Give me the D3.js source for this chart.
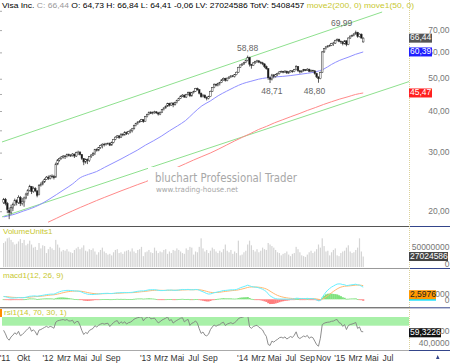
<!DOCTYPE html>
<html>
<head>
<meta charset="utf-8">
<script src="https://cdn.jsdelivr.net/npm/d3@7"></script>
<style>
  html, body { margin: 0; padding: 0; background: #fff; }
  svg { display: block; font-family: "Liberation Sans", Arial, sans-serif; }
</style>
</head>
<body>
<svg id="chart" width="450" height="363"></svg>
<script>
// Data (weekly bars, Monday of each week from firstWeek on)
const firstWeek = "2011-07-18";

const weekOpen = [
  21.3,21.8, 21.2,20.2,19.9,20.5,21.0, 21.6,21.3,22.1,21.2, 21.4,22.0,22.6,23.2,23.8, 23.0,23.5,23.1,22.5, 24.0,24.2,24.6,25.0,
  25.4,25.2,25.6,25.5,25.4, 27.8,28.6,28.9,29.2, 29.4,29.3,29.7,29.5, 29.5,29.8,29.4,30.1,30.2, 29.7,28.9,28.2,28.7, 28.5,29.3,29.6,29.9, 30.8,30.6,31.2,31.6,31.9, 31.8,32.0,32.1,31.7, 32.3,33.0,33.5,33.8, 33.4,34.2,34.0,34.6,34.3, 34.8,35.0,35.5,36.3, 36.8,37.2,37.4,37.8,37.3,
  38.6,39.2,39.8,39.5, 39.7,39.9,39.6,39.3, 39.8,40.5,41.0,41.5, 42.3,41.8,42.4,41.9,42.6, 43.2,43.8,44.5,44.8, 44.2,45.0,45.6,44.6, 45.6,46.0,46.9,46.5,45.4, 44.3,44.8,44.0,43.8, 44.3,46.0,47.2,48.3,48.0, 48.6,48.9,49.8,50.3, 49.6,50.4,50.8,51.2, 51.0,51.6,52.5,54.3,55.2,
  55.6,56.2,57.0,58.2, 55.4,55.0,56.0,56.5, 56.8,56.3,56.0,55.6,54.6, 53.8,50.5,50.0,51.5, 51.0,51.6,52.0,52.6, 52.8,52.5,52.9,52.2,52.6, 53.0,52.7,53.4,54.6, 53.0,52.6,53.0,53.4, 53.2,53.6,52.8,53.2,53.0, 52.0,50.8,50.2,52.4, 60.4,61.8,62.6,63.0, 63.2,64.0,64.2,65.4,65.9,
  65.0,64.8,63.9,65.2, 63.6,66.5,67.4,67.8, 68.4,69.2,67.2,68.3,64.73
];
const weekHigh = [
  22.0,22.0, 21.4,20.6,21.0,21.3,21.9, 21.8,22.4,22.3,22.0, 22.2,22.8,23.4,24.1,23.9, 23.8,23.7,23.2,24.2, 24.5,24.8,25.2,25.6,
  25.7,25.8,25.9,25.8,28.1, 28.8,29.1,29.4,29.6, 29.6,29.9,29.9,29.8, 30.0,29.9,30.3,30.5,30.4, 29.8,29.0,28.9,28.9, 29.4,29.8,30.2,30.9, 31.0,31.3,31.8,32.1,32.2, 32.2,32.3,32.3,32.5, 33.1,33.7,34.0,33.9, 34.4,34.4,34.9,34.8,35.0, 35.4,35.7,36.5,37.0, 37.4,37.7,38.0,37.9,38.8,
  39.4,40.0,40.1,40.0, 40.2,40.1,39.9,40.0, 40.7,41.2,41.7,42.5, 42.5,42.6,42.6,42.8,43.4, 44.0,44.7,45.1,45.0, 45.2,45.9,45.9,45.8, 46.2,47.1,47.2,46.7,45.6, 45.1,45.0,44.4,44.6, 46.2,47.4,48.6,48.5,48.8, 49.1,50.0,50.6,50.5, 50.6,51.0,51.4,51.5, 51.8,52.7,54.5,55.4,55.8,
  56.4,57.3,58.88,58.4, 55.6,56.3,56.8,57.2, 57.0,56.6,56.4,55.8,55.0, 54.0,51.0,51.9,51.8, 51.9,52.3,52.9,53.1, 53.0,53.2,53.0,52.9,53.3, 53.2,53.7,55.1,54.7, 53.3,53.2,53.7,53.6, 54.0,53.8,53.5,53.4,53.2, 52.3,51.0,52.7,60.8, 62.0,62.8,63.3,63.6, 64.3,64.8,65.7,66.3,66.2,
  65.4,65.0,65.6,65.5, 66.8,67.7,68.1,68.8, 69.99,69.4,68.7,68.6,66.84
];
const weekLow = [
  21.1,20.9, 19.8,19.0,19.6,20.1,20.8, 20.9,21.1,20.8,20.9, 20.7,21.8,22.3,23.0,22.6, 22.8,22.9,22.1,22.4, 23.8,24.0,24.4,24.9,
  24.9,25.0,25.2,25.0,25.3, 27.6,28.3,28.7,28.9, 28.8,29.1,29.3,29.2, 29.3,29.0,29.2,29.6,29.5, 28.6,27.6,27.9,27.8, 28.2,29.0,29.4,29.6, 30.3,30.4,30.9,31.0,31.4, 31.6,31.8,31.5,31.6, 32.1,32.8,33.3,33.1, 33.3,33.7,33.9,34.0,34.1, 34.4,34.6,35.3,36.1, 36.5,37.0,37.2,37.0,37.2,
  38.4,39.0,39.3,39.2, 39.4,39.4,38.9,39.0, 39.7,40.3,40.8,41.3, 41.4,41.6,41.2,41.7,42.3, 43.0,43.6,44.2,44.0, 43.9,44.7,44.2,44.3, 45.3,45.8,46.2,45.0,44.0, 44.1,43.8,43.2,43.5, 44.2,45.8,47.0,47.6,47.6, 47.9,48.7,49.5,49.2, 49.3,50.1,50.5,50.7, 50.6,51.4,52.3,54.1,54.8,
  55.2,55.9,56.6,54.6, 53.8,54.8,55.6,56.0, 55.9,55.5,55.1,54.0,53.4, 49.8,48.71,49.6,50.3, 50.6,51.2,51.7,52.3, 52.1,52.3,51.9,51.9,52.4, 52.3,52.5,53.2,52.6, 52.0,52.3,52.7,52.9, 53.0,52.5,52.5,52.5,51.6, 50.4,48.80,50.0,52.2, 60.0,61.4,62.1,62.6, 62.9,63.0,63.8,65.0,64.6,
  63.9,63.2,63.6,62.8, 63.3,66.1,67.0,67.3, 68.0,66.6,66.8,66.2,64.41
];
const weekClose = [
  21.8,21.2, 20.3,19.9,20.6,21.0,21.6, 21.3,22.1,21.2,21.5, 22.0,22.6,23.2,23.8,23.0, 23.5,23.1,22.4,24.0, 24.2,24.6,25.0,25.4,
  25.2,25.6,25.5,25.3,27.8, 28.6,28.9,29.2,29.4, 29.3,29.7,29.5,29.5, 29.8,29.4,30.1,30.2,29.7, 28.9,28.2,28.7,28.5, 29.3,29.6,29.9,30.8, 30.6,31.2,31.6,31.9,31.8, 32.0,32.1,31.7,32.3, 33.0,33.5,33.8,33.4, 34.2,34.0,34.6,34.3,34.8, 35.0,35.5,36.3,36.8, 37.2,37.4,37.8,37.3,38.6,
  39.2,39.8,39.5,39.7, 39.9,39.6,39.3,39.8, 40.5,41.0,41.5,42.3, 41.8,42.4,41.9,42.6,43.2, 43.8,44.5,44.8,44.2, 45.0,45.6,44.6,45.6, 46.0,46.9,46.5,45.4,44.3, 44.8,44.0,43.8,44.3, 46.0,47.2,48.3,48.0,48.6, 48.9,49.8,50.3,49.6, 50.4,50.8,51.2,51.0, 51.6,52.5,54.3,55.2,55.6,
  56.2,57.0,58.2,55.4, 55.0,56.0,56.5,56.8, 56.3,56.0,55.6,54.6,53.8, 50.5,50.0,51.5,51.0, 51.6,52.0,52.6,52.8, 52.5,52.9,52.2,52.6,53.0, 52.7,53.4,54.6,53.0, 52.6,53.0,53.4,53.2, 53.6,52.8,53.2,53.0,52.0, 50.8,50.2,52.4,60.4, 61.8,62.6,63.0,63.2, 64.0,64.2,65.4,65.9,65.0,
  64.8,63.9,65.2,63.6, 66.5,67.4,67.8,68.4, 69.2,67.2,68.3,66.5,66.44
];
// volume in millions of shares
const weekVolume = [
  62,66, 74,76,70,64,58, 60,66,72,62, 70,56,60,68,58, 50,52,44,62, 48,56,54,36,
  46,52,48,44,70, 58,50,40,44, 42,46,40,38, 36,44,48,52,46, 50,56,42,40, 46,44,48,40, 32,38,44,50,40, 36,32,34,30, 38,44,46,36, 38,34,40,42,44, 40,48,40,36, 44,46,52,28,38,
  40,44,38,36, 50,42,36,40, 38,44,46,34, 40,36,44,42,48, 44,40,36,34, 48,44,52,50, 32,40,38,52,74, 48,40,44,36, 42,50,46,40,36, 42,38,46,58, 42,38,44,34, 40,36,68,30,32,
  38,42,58,68, 56,44,40,46, 38,42,50,46,44, 62,58,54,50, 44,38,36,30, 34,36,40,32,28, 34,36,52,46, 38,30,28,26, 32,38,42,36,40, 46,58,50,74, 54,40,42,30, 38,44,48,30,28,
  36,40,42,50, 56,40,36,38, 44,50,74,40,27.024586
];

// Moving averages (monthly samples)
const maDates = [
  "2011-07-18","2011-08-01","2011-09-01","2011-10-01","2011-11-01","2011-12-01",
  "2012-01-01","2012-02-01","2012-03-01","2012-04-01","2012-05-01","2012-06-01","2012-07-01","2012-08-01","2012-09-01","2012-10-01","2012-11-01","2012-12-01",
  "2013-01-01","2013-02-01","2013-03-01","2013-04-01","2013-05-01","2013-06-01","2013-07-01","2013-08-01","2013-09-01","2013-10-01","2013-11-01","2013-12-01",
  "2014-01-01","2014-02-01","2014-03-01","2014-04-01","2014-05-01","2014-06-01","2014-07-01","2014-08-01","2014-09-01","2014-10-01","2014-11-01","2014-12-01",
  "2015-01-01","2015-02-01","2015-03-01","2015-03-30"
];
const ma50 = [
  19.3,19.4,19.7,20.1,20.5,21.0,
  21.7,22.5,23.3,24.2,25.3,25.9,26.4,27.2,28.0,28.8,29.7,30.6,
  31.7,32.7,33.7,35.0,36.2,37.6,39.6,41.6,43.0,44.6,46.0,47.3,
  48.5,49.3,50.0,50.5,50.8,51.0,51.3,51.7,52.1,52.6,53.6,55.4,
  57.0,58.2,59.4,60.39
];
const ma200 = [
  null,null,null,null,null,null,
  18.6,19.1,19.6,20.1,20.6,21.1,21.6,22.1,22.6,23.1,23.6,24.1,
  24.6,25.2,25.8,26.5,27.2,27.9,28.6,29.3,30.0,30.8,31.7,32.6,
  33.5,34.4,35.3,36.1,37.0,37.8,38.6,39.4,40.3,41.1,42.0,42.8,
  43.6,44.3,45.0,45.47
];

// Trend channel lines (start / end)
const trendStartDates = ["2011-07-12", "2011-07-12"];
const trendEndDates = ["2015-06-09", "2015-09-18"];
const trendStartPrices = [32.4, 19.3];
const trendEndPrices = [79.6, 49.2];

// High / low annotations
const noteDates = ["2014-01-20", "2014-04-21", "2014-09-28", "2015-01-08"];
const notePrices = [58.88, 48.71, 48.80, 69.99];
const noteLabels = ["58,88", "48,71", "48,80", "69,99"];
const notePlaceAbove = [true, false, false, true];

// Axis ticks
const priceTicks = [20, 30, 40, 50, 60, 70];
const priceMinorTicks = [20, 25, 30, 35, 40, 45, 50, 60, 70, 80];
const volTicks = [0, 50];
const macdTicks = [0, 1];
const rsiTicks = [40, 60];
const xTickDates = ["2011-07-23","2011-10-01","2012-01-01","2012-03-01","2012-05-01","2012-07-01","2012-09-01",
  "2013-01-01","2013-03-01","2013-05-01","2013-07-01","2013-09-01","2014-01-01","2014-03-01","2014-05-01",
  "2014-07-01","2014-09-01","2014-11-01","2015-01-01","2015-03-01","2015-05-01","2015-07-01"];
const xTickLabels = ["'11","Okt","'12","Mrz","Mai","Jul","Sep","'13","Mrz","Mai","Jul","Sep","'14","Mrz","Mai",
  "Jul","Sep","Nov","'15","Mrz","Mai","Jul"];

// Last values shown in the right axis
const lastPrice = 66.44, lastMa50 = 60.39, lastMa200 = 45.47;
const lastVolume = "27024586", lastMacd = "2,5976", lastRsi = "59,3226";

// Indicator seeds (history before the first visible bar)
const macdSeed = { ema12: 21.1, ema26: 20.5, signal: 0.6 };
const rsiSeed = { gain: 0.30, loss: 0.18 };

// Layout
const width = 450, height = 363;
const plotLeft = 2, plotRight = 409;
const yellow = "#c8c830";

const svg = d3.select("#chart").attr("viewBox", [0, 0, width, height]);
const parseDate = d3.timeParse("%Y-%m-%d");

const x = d3.scaleTime()
  .domain([parseDate("2011-07-12"), parseDate("2015-09-18")])
  .range([plotLeft, plotRight]);
const y = d3.scaleLog().domain([18.12, 86.5]).range([226, 0]);
const yVol = d3.scaleLinear().domain([0, 80]).range([267, 236]);
const yMacd = d3.scaleLinear().domain([-1.8, 6.3]).range([307.6, 270.3]);
const yRsi = d3.scaleLinear().domain([30, 100]).range([350.1, 307.4]);

const start = parseDate(firstWeek);
const bars = weekClose.map((c, i) => ({
  date: d3.timeMonday.offset(start, i),
  o: weekOpen[i], h: weekHigh[i], l: weekLow[i], c: c, v: weekVolume[i]
}));

// MACD (12, 26, 9)
let e12 = macdSeed.ema12, e26 = macdSeed.ema26, sig = macdSeed.signal;
bars.forEach(b => {
  e12 = b.c * 2 / 13 + e12 * 11 / 13;
  e26 = b.c * 2 / 27 + e26 * 25 / 27;
  b.macd = e12 - e26;
  sig = b.macd * 0.2 + sig * 0.8;
  b.signal = sig;
  b.hist = b.macd - b.signal;
});

// RSI (14), Wilder smoothing
let ag = rsiSeed.gain, al = rsiSeed.loss;
bars.forEach((b, i) => {
  const ch = i === 0 ? 0 : b.c - bars[i - 1].c;
  ag = (ag * 13 + Math.max(ch, 0)) / 14;
  al = (al * 13 + Math.max(-ch, 0)) / 14;
  b.rsi = 100 - 100 / (1 + ag / al);
});

// Clip paths
const defs = svg.append("defs");
function addClip(id, top, bottom) {
  defs.append("clipPath").attr("id", id).append("rect")
    .attr("x", plotLeft).attr("y", top)
    .attr("width", plotRight - plotLeft).attr("height", bottom - top);
}
addClip("clipMain", 0, 226);
addClip("clipVol", 236, 268);
addClip("clipMacd", 279, 307.5);
addClip("clipRsi", 317, 350);

svg.append("rect").attr("width", width).attr("height", height).attr("fill", "#fff");

// ---- Main price panel
const gMain = svg.append("g").attr("clip-path", "url(#clipMain)");

gMain.append("g").selectAll("line")
  .data(trendStartDates.map((d, i) => i))
  .join("line")
    .attr("x1", i => x(parseDate(trendStartDates[i])))
    .attr("y1", i => y(trendStartPrices[i]))
    .attr("x2", i => x(parseDate(trendEndDates[i])))
    .attr("y2", i => y(trendEndPrices[i]))
    .attr("stroke", "#8ee08e")
    .attr("stroke-width", 1);

const maPoints = maDates.map((d, i) => ({ date: parseDate(d), m50: ma50[i], m200: ma200[i] }));
gMain.append("path")
  .datum(maPoints)
  .attr("fill", "none")
  .attr("stroke", "#ff8a8a")
  .attr("d", d3.line().defined(d => d.m200 != null).x(d => x(d.date)).y(d => y(d.m200)).curve(d3.curveMonotoneX));
gMain.append("path")
  .datum(maPoints)
  .attr("fill", "none")
  .attr("stroke", "#9090ff")
  .attr("d", d3.line().x(d => x(d.date)).y(d => y(d.m50)).curve(d3.curveMonotoneX));

// watermark
svg.append("rect").attr("x", 148).attr("y", 167).attr("width", 152).attr("height", 27).attr("fill", "#fff");
svg.append("text")
  .attr("x", 155).attr("y", 182)
  .attr("font-family", "'DejaVu Sans', sans-serif")
  .attr("font-size", 11.5)
  .attr("fill", "#a8a8a8")
  .attr("textLength", 142).attr("lengthAdjust", "spacingAndGlyphs")
  .text("bluchart Professional Trader");
svg.append("text")
  .attr("x", 156).attr("y", 191.5)
  .attr("font-family", "'DejaVu Sans', sans-serif")
  .attr("font-size", 7.5)
  .attr("fill", "#a8a8a8")
  .attr("textLength", 82).attr("lengthAdjust", "spacingAndGlyphs")
  .text("www.trading-house.net");

// candles
const gCandles = gMain.append("g");
gCandles.selectAll("line")
  .data(bars)
  .join("line")
    .attr("x1", d => x(d.date)).attr("x2", d => x(d.date))
    .attr("y1", d => y(d.h)).attr("y2", d => y(d.l))
    .attr("stroke", "#333")
    .attr("stroke-width", 0.8);
gCandles.selectAll("rect")
  .data(bars)
  .join("rect")
    .attr("x", d => x(d.date) - 0.8)
    .attr("width", 1.6)
    .attr("y", d => y(Math.max(d.o, d.c)))
    .attr("height", d => Math.max(0.6, Math.abs(y(d.o) - y(d.c))))
    .attr("fill", d => d.c >= d.o ? "#fff" : "#111")
    .attr("stroke", "#333")
    .attr("stroke-width", 0.5);

// high / low labels
svg.append("g").selectAll("text")
  .data(noteLabels.map((t, i) => i))
  .join("text")
    .attr("x", i => x(parseDate(noteDates[i])))
    .attr("y", i => y(notePrices[i]) + (notePlaceAbove[i] ? -5 : 11))
    .attr("text-anchor", "middle")
    .attr("font-size", 8.5)
    .attr("fill", "#666")
    .text(i => noteLabels[i]);

// left edge minor ticks
svg.append("g").selectAll("line")
  .data(priceMinorTicks)
  .join("line")
    .attr("x1", 0).attr("x2", 2)
    .attr("y1", d => y(d)).attr("y2", d => y(d))
    .attr("stroke", "#aaa");

// header legend
const header = svg.append("text").attr("x", 2).attr("y", 8).attr("font-size", 8)
  .attr("textLength", 412).attr("lengthAdjust", "spacingAndGlyphs");
header.append("tspan").attr("fill", "#000").text("Visa Inc. ");
header.append("tspan").attr("fill", "#999").text("C: 66,44 ");
header.append("tspan").attr("fill", "#000").text("O: 64,73 H: 66,84 L: 64,41 -0,06 LV: 27024586 TotV: 5408457 ");
header.append("tspan").attr("fill", yellow).text("move2(200, 0) move1(50, 0)");

// ---- Volume panel
svg.append("g").attr("clip-path", "url(#clipVol)")
  .selectAll("rect")
  .data(bars)
  .join("rect")
    .attr("x", d => x(d.date) - 0.6)
    .attr("width", 1.2)
    .attr("y", d => yVol(d.v))
    .attr("height", d => yVol(0) - yVol(d.v))
    .attr("fill", "#d4d4d4");
svg.append("text").attr("x", 3).attr("y", 234).attr("font-size", 8).attr("fill", yellow).text("VolumeUnits1");

// ---- MACD panel
const gMacd = svg.append("g").attr("clip-path", "url(#clipMacd)");
gMacd.selectAll("rect")
  .data(bars)
  .join("rect")
    .attr("x", d => x(d.date) - 1)
    .attr("width", 2.1)
    .attr("y", d => Math.min(yMacd(0), yMacd(d.hist)))
    .attr("height", d => Math.max(0.8, Math.abs(yMacd(d.hist) - yMacd(0))))
    .attr("fill", d => d.hist >= 0 ? "#7ee27e" : "#ff7c7c");
gMacd.append("path")
  .datum(bars)
  .attr("fill", "none")
  .attr("stroke", "#ffb870")
  .attr("d", d3.line().x(d => x(d.date)).y(d => yMacd(d.signal)));
gMacd.append("path")
  .datum(bars)
  .attr("fill", "none")
  .attr("stroke", "#66f0ff")
  .attr("d", d3.line().x(d => x(d.date)).y(d => yMacd(d.macd)));
svg.append("text").attr("x", 3).attr("y", 277.5).attr("font-size", 8).attr("fill", yellow).text("macd1(12, 26, 9)");

// ---- RSI panel
const gRsi = svg.append("g").attr("clip-path", "url(#clipRsi)");
gRsi.append("rect")
  .attr("x", plotLeft).attr("width", plotRight - plotLeft)
  .attr("y", yRsi(100)).attr("height", yRsi(70) - yRsi(100))
  .attr("fill", "#a8f0a8");
gRsi.append("path")
  .datum(bars)
  .attr("fill", "none")
  .attr("stroke", "#808080")
  .attr("stroke-width", 0.9)
  .attr("d", d3.line().x(d => x(d.date)).y(d => yRsi(d.rsi)));
svg.append("rect").attr("x", 0).attr("y", 309).attr("width", 2).attr("height", 8).attr("fill", "#ff8c00");
svg.append("text").attr("x", 4).attr("y", 314.5).attr("font-size", 8).attr("fill", yellow).text("rsi1(14, 70, 30, 1)");

// ---- Separators and right axis frame
const seps = [[226.5, "#555"], [268.5, "#999"], [307.8, "#444"], [350.5, "#aaa"]];
seps.forEach(([yy, col]) => {
  svg.append("line").attr("x1", 0).attr("x2", plotRight).attr("y1", yy).attr("y2", yy).attr("stroke", col);
  svg.append("line").attr("x1", plotRight).attr("x2", width).attr("y1", yy).attr("y2", yy).attr("stroke", "#34458a");
});
svg.append("line")
  .attr("x1", plotRight + 0.5).attr("x2", plotRight + 0.5)
  .attr("y1", 0).attr("y2", 350)
  .attr("stroke", "#dcd29a")
  .attr("stroke-dasharray", "1,1");

// ---- Right axis labels
const axisText = (sel) => sel.attr("x", 449.5).attr("text-anchor", "end").attr("dominant-baseline", "middle")
  .attr("font-size", 8.5).attr("fill", "#777");

svg.append("g").selectAll("text").data(priceTicks).join("text")
  .call(axisText).attr("y", d => y(d)).text(d => d3.format(".2f")(d).replace(".", ","));
svg.append("g").selectAll("text").data(volTicks).join("text")
  .call(axisText).attr("y", d => yVol(d) - (d === 0 ? 2 : 0)).text(d => d === 0 ? "0" : String(d * 1e6));
svg.append("g").selectAll("text").data(macdTicks).join("text")
  .call(axisText).attr("y", d => yMacd(d) + (d === 0 ? 1 : 0)).text(d => d === 0 ? "0" : d3.format(".4f")(d).replace(".", ","));
svg.append("g").selectAll("text").data(rsiTicks).join("text")
  .call(axisText).attr("y", d => yRsi(d)).text(d => d3.format(".4f")(d).replace(".", ","));

// value boxes
function valueBox(cy, label, bg, fg, w) {
  svg.append("rect").attr("x", plotRight).attr("y", cy - 4.5).attr("width", w).attr("height", 9).attr("fill", bg);
  svg.append("text").attr("x", plotRight + 1).attr("y", cy).attr("dominant-baseline", "middle")
    .attr("font-size", 8.5).attr("fill", fg).text(label);
}
valueBox(y(lastPrice), d3.format(".2f")(lastPrice).replace(".", ","), "#555", "#fff", 23);
valueBox(y(lastMa50), d3.format(".2f")(lastMa50).replace(".", ","), "#1f1fff", "#fff", 23);
valueBox(y(lastMa200), d3.format(".2f")(lastMa200).replace(".", ","), "#ff2020", "#fff", 23);
valueBox(yVol(+lastVolume / 1e6), lastVolume, "#444", "#fff", 39);
svg.append("rect").attr("x", plotRight).attr("y", yMacd(1) + 3).attr("width", 27).attr("height", 3).attr("fill", "#19e0ff");
valueBox(yMacd(1), lastMacd, "#ff9900", "#222", 27);
valueBox(yRsi(60) + 1, lastRsi, "#111", "#fff", 32);

// ---- X axis labels
svg.append("g").selectAll("text")
  .data(xTickDates.map((d, i) => i))
  .join("text")
    .attr("x", i => x(parseDate(xTickDates[i])))
    .attr("y", 360.5)
    .attr("text-anchor", "middle")
    .attr("font-size", 8.5)
    .attr("fill", "#333")
    .text(i => xTickLabels[i]);

// corner icon
svg.append("path").attr("d", "M436,359 L439.5,359 L437.7,355 Z").attr("fill", "#34458a");
</script>
</body>
</html>
